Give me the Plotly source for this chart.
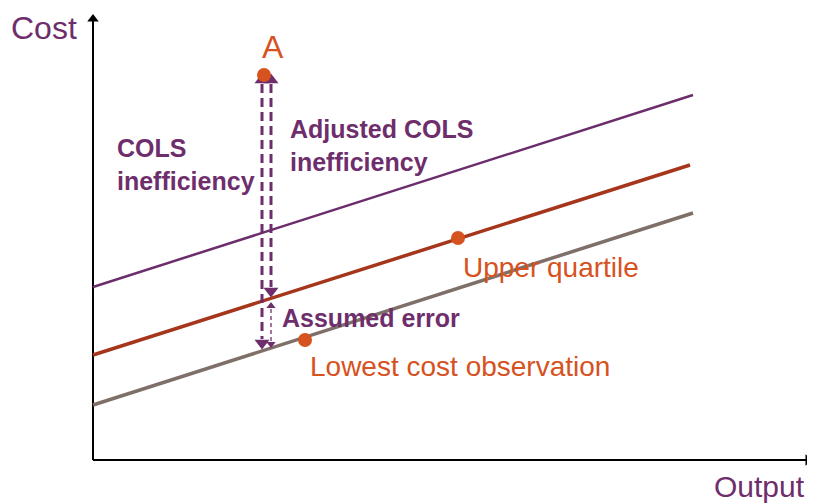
import plotly.graph_objects as go

# Diagram coordinates (canvas units: x to the right, y downward)
axis_origin = (93, 460)
axis_y_tip = (93, 14)
axis_x_tip = (813, 460)

line_names = ["COLS frontier", "Upper quartile frontier", "Lowest cost frontier"]
line_x = [[93, 693], [93, 690], [93, 693]]
line_y = [[287, 95], [355, 165], [405, 213]]
line_colors = ["#6B2D6B", "#A5351B", "#7E7068"]
line_widths = [2.5, 3.5, 3.5]

point_names = ["A", "Upper quartile", "Lowest cost observation"]
point_x = [264, 458, 305]
point_y = [75, 238, 340]

# Vertical arrows: (x, y_top, y_bottom)
arrow_x = [262, 271]
arrow_top = [80, 80]
arrow_bottom = [343, 291]
small_arrow_x = 271
small_arrow_top = 306
small_arrow_bottom = 344

PURPLE = "#6E2E6C"
ORANGE = "#D6521E"
FONT = "Liberation Sans, Arial, sans-serif"
OFF = 8  # page body margin

fig = go.Figure()

# axes
fig.add_trace(go.Scatter(x=[axis_origin[0], axis_y_tip[0]], y=[axis_origin[1], axis_y_tip[1] + 6],
                         mode="lines", line=dict(color="black", width=2), hoverinfo="skip"))
fig.add_trace(go.Scatter(x=[axis_origin[0], axis_x_tip[0] - 6], y=[axis_origin[1], axis_x_tip[1]],
                         mode="lines", line=dict(color="black", width=2), hoverinfo="skip"))
fig.add_trace(go.Scatter(x=[axis_y_tip[0]], y=[axis_y_tip[1] + 5], mode="markers",
                         marker=dict(symbol="triangle-up", size=10, color="black"), hoverinfo="skip"))
fig.add_trace(go.Scatter(x=[axis_x_tip[0] - 5], y=[axis_x_tip[1]], mode="markers",
                         marker=dict(symbol="triangle-right", size=10, color="black"), hoverinfo="skip"))

# frontier lines
for name, xs, ys, c, w in zip(line_names, line_x, line_y, line_colors, line_widths):
    fig.add_trace(go.Scatter(x=xs, y=ys, mode="lines", name=name, line=dict(color=c, width=w)))

# dashed vertical arrows
for ax, yt, yb in zip(arrow_x, arrow_top, arrow_bottom):
    fig.add_trace(go.Scatter(x=[ax, ax], y=[yt + 4, yb - 4], mode="lines",
                             line=dict(color=PURPLE, width=3, dash="9px,5px"), hoverinfo="skip"))
    fig.add_trace(go.Scatter(x=[ax, ax], y=[yt, yb], mode="markers",
                             marker=dict(symbol=["triangle-up", "triangle-down"], size=13, color=PURPLE),
                             hoverinfo="skip"))
# small dotted arrow
fig.add_trace(go.Scatter(x=[small_arrow_x, small_arrow_x], y=[small_arrow_top + 3, small_arrow_bottom - 3],
                         mode="lines", line=dict(color=PURPLE, width=1.3, dash="4px,3px"), hoverinfo="skip"))
fig.add_trace(go.Scatter(x=[small_arrow_x, small_arrow_x], y=[small_arrow_top, small_arrow_bottom], mode="markers",
                         marker=dict(symbol=["triangle-up", "triangle-down"], size=8, color=PURPLE),
                         hoverinfo="skip"))

# points
fig.add_trace(go.Scatter(x=point_x, y=point_y, mode="markers", text=point_names,
                         marker=dict(size=14, color=ORANGE)))

def text(x, y, s, color, size, bold=False, anchor="left"):
    fig.add_annotation(x=x, y=y, text=f"<b>{s}</b>" if bold else s, showarrow=False,
                       xanchor=anchor, yanchor="middle", align="left",
                       font=dict(family=FONT, size=size, color=color))

text(9, 28, "Cost", PURPLE, 32)
text(712, 486, "Output", PURPLE, 30)
text(273, 47, "A", ORANGE, 32, anchor="center")
text(461, 267, "Upper quartile", ORANGE, 28)
text(308, 366, "Lowest cost observation", ORANGE, 28)
text(115, 164, "COLS<br>inefficiency", PURPLE, 25, bold=True)
text(288, 145, "Adjusted COLS<br>inefficiency", PURPLE, 25, bold=True)
text(280, 318, "Assumed error", PURPLE, 25, bold=True)

fig.update_layout(
    width=815 - OFF, height=504 - OFF, margin=dict(l=0, r=0, t=0, b=0),
    paper_bgcolor="white", plot_bgcolor="white", showlegend=False,
    xaxis=dict(range=[OFF, 815], visible=False, fixedrange=True),
    yaxis=dict(range=[504, OFF], visible=False, fixedrange=True),
)
fig.write_html("out.html")
